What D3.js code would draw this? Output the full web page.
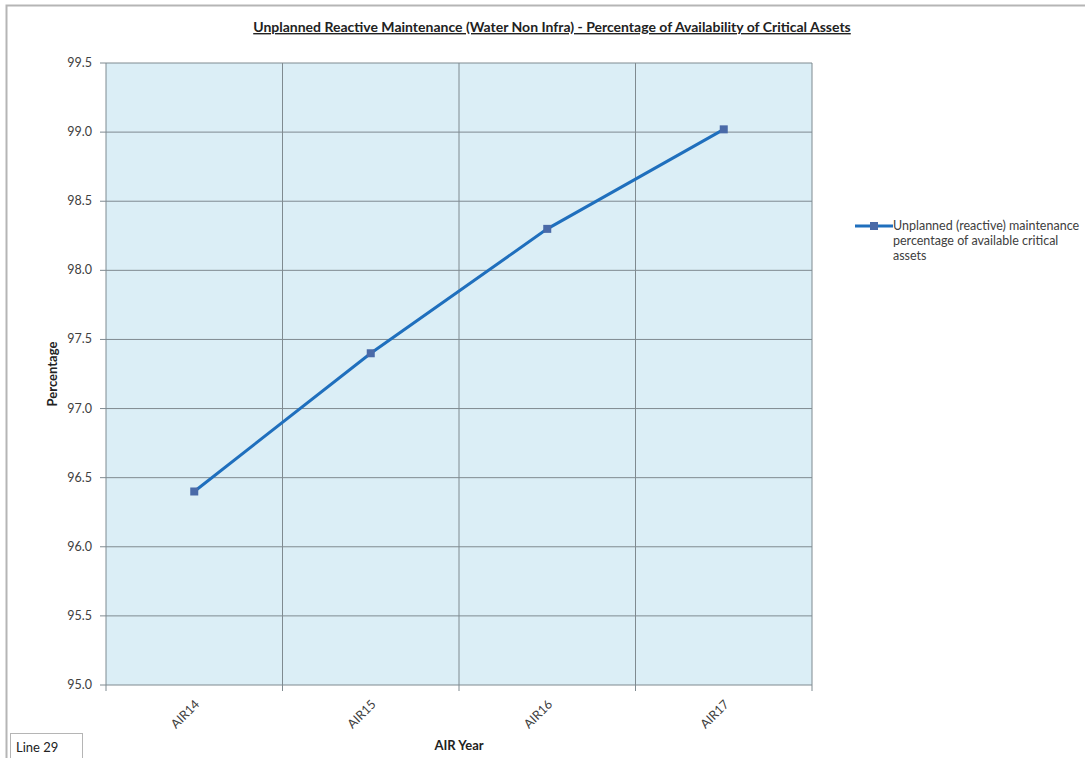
<!DOCTYPE html>
<html>
<head>
<meta charset="utf-8">
<script src="https://d3js.org/d3.v7.min.js"></script>
<style>
  body { margin: 0; background: #fff; }
  text { font-family: Lato, "Open Sans", sans-serif; }
</style>
</head>
<body>
<svg id="chart" width="1085" height="758"></svg>
<script>
// data
var years = ["AIR14", "AIR15", "AIR16", "AIR17"];
var availability = [96.40, 97.40, 98.30, 99.02];
var yTicks = [95.0, 95.5, 96.0, 96.5, 97.0, 97.5, 98.0, 98.5, 99.0, 99.5];

var svg = d3.select("#chart");

// outer frame of the chart sheet
svg.append("rect")
  .attr("x", 6.5).attr("y", 5.5)
  .attr("width", 1100).attr("height", 800)
  .attr("fill", "#fff")
  .attr("stroke", "#b5b5b5").attr("stroke-width", 2);

var plotL = 106, plotR = 812, plotT = 63, plotB = 685;

var x = d3.scaleBand().domain(years).range([plotL, plotR]);
var y = d3.scaleLinear().domain([95, 99.5]).range([plotB, plotT]);

// plot background
svg.append("rect")
  .attr("x", plotL).attr("y", plotT)
  .attr("width", plotR - plotL).attr("height", plotB - plotT)
  .attr("fill", "#dbeef6");

// horizontal grid
svg.append("g").selectAll("line")
  .data(yTicks)
  .enter().append("line")
  .attr("x1", plotL - 6).attr("x2", plotR)
  .attr("y1", function(d) { return y(d); })
  .attr("y2", function(d) { return y(d); })
  .attr("stroke", "#7f8a90").attr("stroke-width", 1);

// vertical grid at category boundaries
var bounds = years.map(function(d) { return x(d); }).concat([plotR]);
svg.append("g").selectAll("line")
  .data(bounds)
  .enter().append("line")
  .attr("x1", function(d) { return d; })
  .attr("x2", function(d) { return d; })
  .attr("y1", plotT).attr("y2", plotB + 6)
  .attr("stroke", "#7f8a90").attr("stroke-width", 1);

// y axis labels
svg.append("g").selectAll("text")
  .data(yTicks)
  .enter().append("text")
  .attr("x", plotL - 14)
  .attr("y", function(d) { return y(d) + 4; })
  .attr("text-anchor", "end")
  .attr("font-size", 12.5)
  .attr("fill", "#404040")
  .text(function(d) { return d.toFixed(1); });

// x axis labels, rotated
svg.append("g").selectAll("text")
  .data(years)
  .enter().append("text")
  .attr("transform", function(d) {
    return "translate(" + (x(d) + x.bandwidth() / 2 + 6) + "," + (plotB + 20) + ") rotate(-45)";
  })
  .attr("text-anchor", "end")
  .attr("font-size", 12.5)
  .attr("fill", "#404040")
  .text(function(d) { return d; });

// the series
var line = d3.line()
  .x(function(d, i) { return x(years[i]) + x.bandwidth() / 2; })
  .y(function(d) { return y(d); });

svg.append("path")
  .datum(availability)
  .attr("fill", "none")
  .attr("stroke", "#1f6fbd")
  .attr("stroke-width", 3)
  .attr("d", line);

svg.append("g").selectAll("rect")
  .data(availability)
  .enter().append("rect")
  .attr("x", function(d, i) { return x(years[i]) + x.bandwidth() / 2 - 4; })
  .attr("y", function(d) { return y(d) - 4; })
  .attr("width", 8).attr("height", 8)
  .attr("fill", "#4a6aa8");

// title
svg.append("text")
  .attr("x", 552).attr("y", 32)
  .attr("text-anchor", "middle")
  .attr("font-size", 14).attr("font-weight", "bold")
  .attr("fill", "#222")
  .attr("text-decoration", "underline")
  .text("Unplanned Reactive Maintenance (Water Non Infra) - Percentage of Availability of Critical Assets");

// axis titles
svg.append("text")
  .attr("transform", "translate(57," + ((plotT + plotB) / 2) + ") rotate(-90)")
  .attr("text-anchor", "middle")
  .attr("font-size", 13).attr("font-weight", "bold")
  .attr("fill", "#222")
  .text("Percentage");

svg.append("text")
  .attr("x", (plotL + plotR) / 2).attr("y", 750)
  .attr("text-anchor", "middle")
  .attr("font-size", 13).attr("font-weight", "bold")
  .attr("fill", "#222")
  .text("AIR Year");

// legend
var legend = svg.append("g");
legend.append("line")
  .attr("x1", 855).attr("x2", 893)
  .attr("y1", 226).attr("y2", 226)
  .attr("stroke", "#1f6fbd").attr("stroke-width", 3);
legend.append("rect")
  .attr("x", 870).attr("y", 222).attr("width", 8).attr("height", 8)
  .attr("fill", "#4a6aa8");
var legendLines = ["Unplanned (reactive) maintenance", "percentage of available critical", "assets"];
legend.selectAll("text.leg")
  .data(legendLines)
  .enter().append("text")
  .attr("class", "leg")
  .attr("x", 893)
  .attr("y", function(d, i) { return 230 + i * 15; })
  .attr("font-size", 12.5)
  .attr("fill", "#404040")
  .text(function(d) { return d; });

// sheet label box
svg.append("rect")
  .attr("x", 10.5).attr("y", 733.5)
  .attr("width", 72).attr("height", 30)
  .attr("fill", "#fff")
  .attr("stroke", "#b5b5b5");
svg.append("text")
  .attr("x", 16).attr("y", 752)
  .attr("font-size", 13)
  .attr("fill", "#222")
  .text("Line 29");
</script>
</body>
</html>
